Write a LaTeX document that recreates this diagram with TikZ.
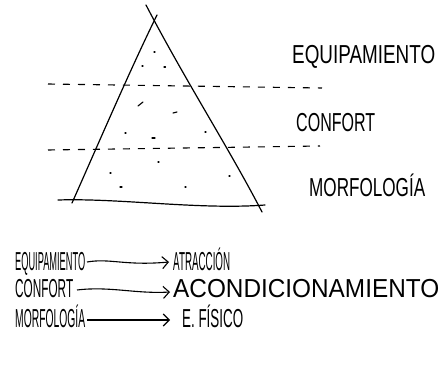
\documentclass[tikz,border=0pt]{standalone}
\usepackage{fontspec}
\setmainfont{Liberation Sans}
\usepackage{graphicx}
\usetikzlibrary{arrows.meta}
\newcommand{\hw}[2]{\resizebox{#1}{\height}{#2}}
\tikzset{
  pen/.style={line width=1.2pt, line cap=round, line join=round},
  hwlabel/.style={inner sep=0pt, anchor=base west, font=\fontsize{26}{26}\selectfont},
  guide/.style={line width=1.1pt, dash pattern=on 7pt off 8pt},
  flow/.style={line width=1.1pt, -{Straight Barb[length=6pt,width=12pt,line width=1.1pt]}},
  speck/.style={line width=1.1pt, line cap=round}
}
\begin{document}
\begin{tikzpicture}[x=1pt,y=-1pt]
\useasboundingbox (0,0) rectangle (442,366);
% triangle
\coordinate (A1) at (157,15);
\coordinate (A2) at (146,5);
\coordinate (BL) at (72,203);
\coordinate (BR) at (262,212);
\coordinate (B0) at (58,200);
\coordinate (B1) at (265,205);
\draw[pen] (BL) .. controls (100,140) and (130,70) .. (A1);
\draw[pen] (A2) .. controls (185,80) and (230,150) .. (BR);
\draw[pen] (B0) .. controls (120,198) and (200,210) .. (B1);
% dashed level lines
\coordinate (L1a) at (48,84);
\coordinate (L1b) at (322,88);
\coordinate (L2a) at (48,150);
\coordinate (L2b) at (320,146);
\draw[guide] (L1a) -- (L1b);
\draw[guide] (L2a) -- (L2b);
% specks
\foreach \x/\y/\dx/\dy in {154/52/1/0, 142/66/1/0, 164/67/1.5/0, 138/106/5/-4, 173/113/4/-1, 125/133/1/0, 152/138/3/0, 205/132/1/0, 158/162/1/0, 110/173/1/0, 229/176/1/0, 120/187/2/0, 185/187/1/0}
  \draw[speck] (\x,\y) -- ++(\dx,\dy);
% level labels
\node[hwlabel] (lvA) at (292,64) {\hw{143pt}{EQUIPAMIENTO}};
\node[hwlabel] (lvB) at (296,132) {\hw{79pt}{CONFORT}};
\node[hwlabel] (lvC) at (309,197) {\hw{116pt}{MORFOLOGÍA}};
% bottom mapping
\node[hwlabel] (eq) at (15,271) {\hw{70pt}{EQUIPAMIENTO}};
\node[hwlabel] (at) at (173,271) {\hw{57pt}{ATRACCIÓN}};
\node[hwlabel] (co) at (15,298) {\hw{58pt}{CONFORT}};
\node[hwlabel] (ac) at (173,298) {\hw{266pt}{ACONDICIONAMIENTO}};
\node[hwlabel] (mo) at (15,327) {\hw{70pt}{MORFOLOGÍA}};
\node[hwlabel] (ef) at (182,327) {\hw{61pt}{E. FÍSICO}};
\coordinate (eqR) at (87,262);
\coordinate (atL) at (169,262);
\coordinate (coR) at (77,290);
\coordinate (acL) at (170,292);
\coordinate (moR) at (87,320);
\coordinate (efL) at (170,320);
\draw[flow] (eqR) .. controls (110,258) and (125,266) .. (atL);
\draw[flow] (coR) .. controls (110,286) and (135,294) .. (acL);
\draw[flow] (moR) -- (efL);
\end{tikzpicture}
\end{document}
